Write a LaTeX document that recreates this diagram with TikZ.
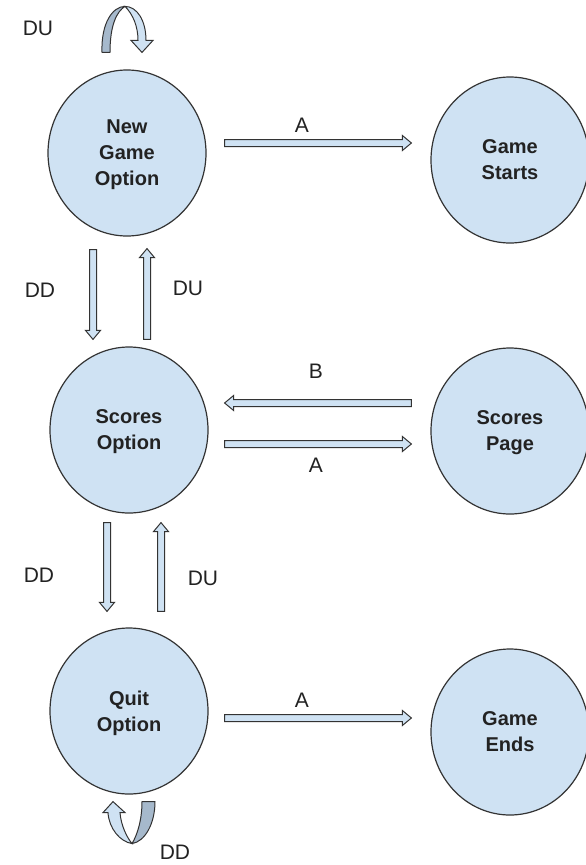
\documentclass[tikz,border=0pt]{standalone}
\usepackage{fontspec}
\setmainfont{Liberation Sans}
\usetikzlibrary{shapes.geometric,calc}
\definecolor{fillblue}{HTML}{CFE2F3}
\definecolor{shadeblue}{HTML}{A6B9CC}
\definecolor{edgegray}{HTML}{333333}
\definecolor{txtgray}{HTML}{222222}
\tikzset{
  state/.style={ellipse, draw=edgegray, line width=1.2pt, fill=fillblue,
    minimum width=158pt, minimum height=166pt, inner sep=0pt, align=center,
    text depth=0pt, text=txtgray, font=\fontsize{20}{26}\selectfont\bfseries},
  lbl/.style={font=\fontsize{21}{25}\selectfont, inner sep=0pt, text=txtgray},
  blk/.style={draw=edgegray, line width=1pt, fill=fillblue, line join=miter},
  shadepart/.style={draw=edgegray, line width=1pt, fill=shadeblue, line join=round},
  lightpart/.style={draw=edgegray, line width=1pt, fill=fillblue, line join=miter},
}
\newcommand\blockarrow[2]{%
  \coordinate (hb) at ($(#2)!9pt!(#1)$);
  \draw[blk] ($(#1)!3.5pt!90:(#2)$) -- ($(hb)!3.5pt!90:(#2)$) -- ($(hb)!7.5pt!90:(#2)$)
    -- (#2) -- ($(hb)!7.5pt!-90:(#2)$) -- ($(hb)!3.5pt!-90:(#2)$)
    -- ($(#1)!3.5pt!-90:(#2)$) -- cycle;
}
\begin{document}
\begin{tikzpicture}[x=1pt,y=-1pt]
\useasboundingbox (0,0) rectangle (586,865);

% states
\node[state] (ng) at (127,153) {New\\Game\\Option};
\node[state] (gs) at (510,160) {Game\\Starts};
\node[state] (so) at (129,430) {Scores\\Option};
\node[state] (sp) at (510,431) {Scores\\Page};
\node[state] (qo) at (129,711) {Quit\\Option};
\node[state] (ge) at (510,732) {Game\\Ends};

% connector end points
\coordinate (a1s) at ($(ng.east)+(18,-10)$);
\coordinate (a1e) at ($(gs.west)+(-19,-17)$);
\coordinate (bs)  at ($(sp.west)+(-19,-28)$);
\coordinate (be)  at ($(so.east)+(16,-27)$);
\coordinate (a2s) at ($(so.east)+(16,14)$);
\coordinate (a2e) at ($(sp.west)+(-19,13)$);
\coordinate (a3s) at ($(qo.east)+(16,7)$);
\coordinate (a3e) at ($(ge.west)+(-19,-14)$);
\coordinate (d1s) at ($(ng.south)+(-34,13)$);
\coordinate (d1e) at ($(so.north)+(-36,-7)$);
\coordinate (u1s) at ($(so.north)+(18,-7)$);
\coordinate (u1e) at ($(ng.south)+(20,12)$);
\coordinate (d2s) at ($(so.south)+(-22,9)$);
\coordinate (d2e) at ($(qo.north)+(-22,-16)$);
\coordinate (u2s) at ($(qo.north)+(32,-16)$);
\coordinate (u2e) at ($(so.south)+(32,9)$);

\blockarrow{a1s}{a1e}
\blockarrow{bs}{be}
\blockarrow{a2s}{a2e}
\blockarrow{a3s}{a3e}
\blockarrow{d1s}{d1e}
\blockarrow{u1s}{u1e}
\blockarrow{d2s}{d2e}
\blockarrow{u2s}{u2e}

% self loop on New Game Option
\begin{scope}[shift={(ng.north)}]
  \draw[shadepart] (-25,-17) .. controls (-26,-47) and (-14,-63) .. (-2,-63)
    .. controls (-10,-58) and (-17,-45) .. (-17,-17) -- cycle;
  \draw[lightpart] (-2,-63) .. controls (10,-63) and (19,-49) .. (19,-29)
    -- (26,-29) -- (15,-17) -- (4,-29) -- (11,-29)
    .. controls (11,-43) and (6,-55) .. (-2,-63) -- cycle;
\end{scope}

% self loop on Quit Option
\begin{scope}[shift={(qo.south)}]
  \draw[shadepart] (3,49) .. controls (9,39) and (13,24) .. (13,7) -- (26,7)
    .. controls (26,29) and (16,47) .. (3,49) -- cycle;
  \draw[lightpart] (-16,7) -- (-4,18) -- (-9,18) .. controls (-8,31) and (-2,43) .. (3,49)
    .. controls (-9,47) and (-20,34) .. (-21,18) -- (-26,18) -- cycle;
\end{scope}

% labels
\node[lbl] (lA1) at (302,125) {A};
\node[lbl] (lB)  at (316,371) {B};
\node[lbl] (lA2) at (316,465) {A};
\node[lbl] (lA3) at (302,700) {A};
\node[lbl] (lDUtop) at (38,28) {DU};
\node[lbl] (lDD1) at (40,290) {DD};
\node[lbl] (lDU1) at (188,288) {DU};
\node[lbl] (lDD2) at (39,575) {DD};
\node[lbl] (lDU2) at (203,578) {DU};
\node[lbl] (lDDbot) at (175,852) {DD};
\end{tikzpicture}
\end{document}
